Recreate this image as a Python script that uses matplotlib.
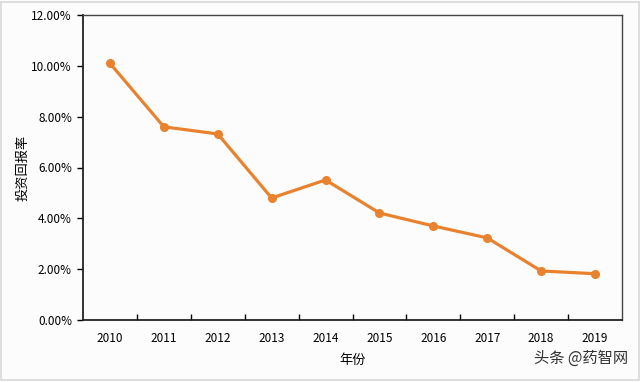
import matplotlib
matplotlib.use("Agg")
import matplotlib.pyplot as plt
from matplotlib.ticker import FuncFormatter, FixedLocator

plt.rcParams['font.family'] = ['Noto Sans CJK SC', 'DejaVu Sans']

years = ["2010", "2011", "2012", "2013", "2014", "2015", "2016", "2017", "2018", "2019"]
roi = [10.1, 7.6, 7.32, 4.8, 5.51, 4.21, 3.7, 3.23, 1.93, 1.82]

fig = plt.figure(figsize=(6.4, 3.82), dpi=100, facecolor="#fdfcfd")
ax = fig.add_axes([83/640, 1 - 320/382, 539/640, 305/382])
ax.set_facecolor("#fdfcfd")

x = list(range(len(years)))
ax.plot(x, roi, color="#e8822e", lw=2.3, marker="o", ms=5.5, zorder=3)

ax.set_xlim(-0.5, len(years) - 0.5)
ax.set_ylim(0, 12)
ax.set_yticks([0, 2, 4, 6, 8, 10, 12])
ax.yaxis.set_major_formatter(FuncFormatter(lambda v, p: "%.2f%%" % v))
ax.set_xticks(x)
ax.set_xticklabels(years)
ax.xaxis.set_minor_locator(FixedLocator([i + 0.5 for i in range(len(years) - 1)]))
ax.tick_params(axis="x", which="major", length=0, pad=9, labelsize=8.5)
ax.tick_params(axis="x", which="minor", direction="in", length=4, width=1)
ax.tick_params(axis="y", direction="out", length=4, width=1, labelsize=8.5, pad=4)

for side in ["left", "bottom"]:
    ax.spines[side].set_linewidth(1.3)
    ax.spines[side].set_color("#222222")
for side in ["top", "right"]:
    ax.spines[side].set_linewidth(1)
    ax.spines[side].set_color("#444444")

ax.set_xlabel("年份", fontsize=9.5, labelpad=6)
ax.set_ylabel("投资回报率", fontsize=9.5)
ax.yaxis.set_label_coords(-0.1, 0.5)

fig.text(628/640, 1 - 358/382, "头条 @药智网", ha="right", va="center", fontsize=11, color="#333333")

fig.patches.append(plt.Rectangle((0.002, 0.004), 0.996, 0.992, transform=fig.transFigure,
                                 fill=False, edgecolor="#d8d8d8", lw=1.2))

fig.savefig("out.png", dpi=100, facecolor=fig.get_facecolor())
